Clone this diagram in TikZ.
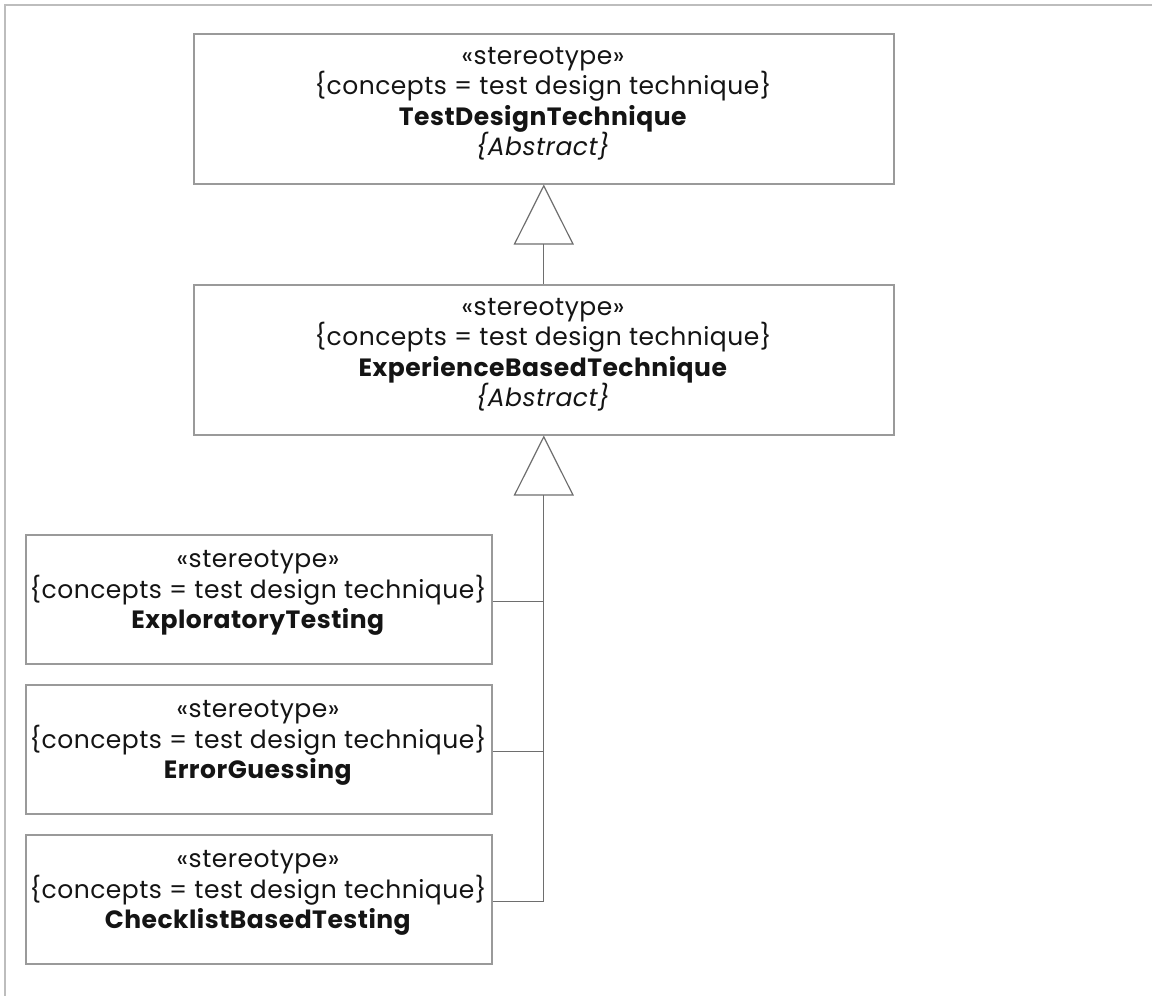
\documentclass[tikz,border=0pt]{standalone}
\usepackage{fontspec}
\setmainfont[LetterSpace=2]{Poppins}
\usetikzlibrary{arrows.meta,calc}
\definecolor{framegray}{HTML}{BDBDBD}
\definecolor{boxline}{HTML}{9A9A9A}
\definecolor{wire}{HTML}{6E6E6E}
\definecolor{ink}{HTML}{141414}
\begin{document}
\begin{tikzpicture}[x=1pt,y=-1pt,
  classbox/.style={draw=boxline,line width=1.5pt,fill=white,inner sep=0pt,anchor=north west},
  wide/.style={classbox,minimum width=700pt,minimum height=150pt},
  narrow/.style={classbox,minimum width=466pt,minimum height=129pt},
  classtext/.style={text=ink,align=center,inner sep=0pt,font=\fontsize{25}{30.5}\selectfont},
  gen/.style={draw=wire,line width=1.2pt,-{Triangle[open,length=60pt,width=60pt,fill=white]}},
  wirepath/.style={draw=wire,line width=1.2pt}
]
\useasboundingbox (0,0) rectangle (1152,996);
\draw[framegray,line width=2pt] (5,996) -- (5,5) -- (1152,5);

% class boxes
\node[wide] (b1) at (193,33) {};
\node[wide] (b2) at (193,284) {};
\node[narrow] (b3) at (25,534) {};
\node[narrow] (b4) at (25,684) {};
\node[narrow] (b5) at (25,834) {};

% class texts
\node[classtext] (t1) at (543,104) {«stereotype»\\\{concepts = test design technique\}\\\textbf{TestDesignTechnique}\\\textit{\{Abstract\}}};
\node[classtext] (t2) at (543,355) {«stereotype»\\\{concepts = test design technique\}\\\textbf{ExperienceBasedTechnique}\\\textit{\{Abstract\}}};
\node[classtext] (t3) at (258,593) {«stereotype»\\\{concepts = test design technique\}\\\textbf{ExploratoryTesting}};
\node[classtext] (t4) at (258,743) {«stereotype»\\\{concepts = test design technique\}\\\textbf{ErrorGuessing}};
\node[classtext] (t5) at (258,893) {«stereotype»\\\{concepts = test design technique\}\\\textbf{ChecklistBasedTesting}};

% generalisations
\draw[gen] (b2.north) -- (b1.south);
\coordinate (j5) at ([yshift=-2.5pt]b5.east -| b2.south);
\draw[wirepath] ([yshift=-2.5pt]b3.east) -- ([yshift=-2.5pt]b3.east -| b2.south);
\draw[wirepath] ([yshift=-2.5pt]b4.east) -- ([yshift=-2.5pt]b4.east -| b2.south);
\draw[wirepath] ([yshift=-2.5pt]b5.east) -- (j5);
\draw[gen] (j5) -- (b2.south);
\end{tikzpicture}
\end{document}
